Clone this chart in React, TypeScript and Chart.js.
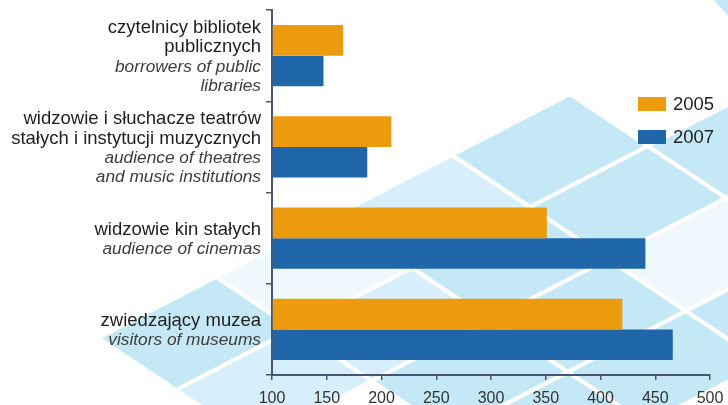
import React, { useEffect, useRef } from 'react';
import { Chart, registerables } from 'chart.js';

Chart.register(...registerables);

// ---- data ----
const categoryPl: string[][] = [
  ['czytelnicy bibliotek', 'publicznych'],
  ['widzowie i słuchacze teatrów', 'stałych i instytucji muzycznych'],
  ['widzowie kin stałych'],
  ['zwiedzający muzea'],
];
const categoryEn: string[][] = [
  ['borrowers of public', 'libraries'],
  ['audience of theatres', 'and music institutions'],
  ['audience of cinemas'],
  ['visitors of museums'],
];
const seriesNames = ['2005', '2007'];
const values2005 = [165, 209, 351, 420];
const values2007 = [147, 187, 441, 466];
const xMin = 100;
const xMax = 500;
const xStep = 50;

// ---- styles ----
const FONT = '"Liberation Sans", Arial, Helvetica, sans-serif';
const ORANGE = '#eb9b0d';
const BLUE = '#1f67a8';
const AXIS = '#4a5478';
const DIAMOND = '#c4e8f6';
const DIAMOND_LIGHT = '#d6effa';
const DIAMOND_PALE = '#eef8fd';

// lattice of decorative diamonds in the background
const latticeOrigin = [452, 155];
const latA = [78, 52];
const latB = [118, -61];
const cells: [number, number, string][] = [
  [0, 0, DIAMOND], [1, 0, DIAMOND], [1, 1, DIAMOND],
  [0, -1, DIAMOND_LIGHT], [1, -1, DIAMOND], [2, -1, DIAMOND], [3, -1, DIAMOND],
  [3, 0, DIAMOND], [2, 0, DIAMOND_PALE], [0, -2, DIAMOND_PALE], [1, -2, DIAMOND_LIGHT],
  [2, -2, DIAMOND], [3, -2, DIAMOND], [0, -3, DIAMOND], [1, -3, DIAMOND_LIGHT],
];

const backgroundPlugin = {
  id: 'bgDiamonds',
  beforeDraw(chart: any) {
    const ctx = chart.ctx;
    ctx.save();
    ctx.fillStyle = '#ffffff';
    ctx.fillRect(0, 0, chart.width, chart.height);
    cells.forEach(([i, j, color]) => {
      const lx = latticeOrigin[0] + i * latA[0] + j * latB[0];
      const ly = latticeOrigin[1] + i * latA[1] + j * latB[1];
      ctx.beginPath();
      ctx.moveTo(lx, ly);
      ctx.lineTo(lx + latB[0], ly + latB[1]);
      ctx.lineTo(lx + latA[0] + latB[0], ly + latA[1] + latB[1]);
      ctx.lineTo(lx + latA[0], ly + latA[1]);
      ctx.closePath();
      ctx.fillStyle = color;
      ctx.fill();
      ctx.strokeStyle = '#ffffff';
      ctx.lineWidth = 4;
      ctx.stroke();
    });
    // small corner piece at top right
    ctx.beginPath();
    ctx.moveTo(714, 0);
    ctx.lineTo(728, 0);
    ctx.lineTo(728, 16);
    ctx.closePath();
    ctx.fillStyle = DIAMOND;
    ctx.fill();
    ctx.restore();
  },
};

const labelsPlugin = {
  id: 'customLabels',
  afterDraw(chart: any) {
    const ctx = chart.ctx;
    const yScale = chart.scales.y;
    ctx.save();
    ctx.textAlign = 'right';
    ctx.textBaseline = 'middle';
    const lh = 19.5;
    categoryPl.forEach((pl, i) => {
      const lines = [
        ...pl.map((t) => ({ t, it: false })),
        ...categoryEn[i].map((t) => ({ t, it: true })),
      ];
      const cy = yScale.getPixelForValue(i) + 1.5;
      lines.forEach((ln, k) => {
        const yy = cy + (k - (lines.length - 1) / 2) * lh;
        ctx.font = ln.it ? `italic 17.3px ${FONT}` : `18.5px ${FONT}`;
        ctx.fillStyle = ln.it ? '#3d3d3d' : '#1e1e1e';
        ctx.fillText(ln.t, 261, yy);
      });
    });

    // legend
    const colors = [ORANGE, BLUE];
    ctx.textAlign = 'left';
    seriesNames.forEach((name, k) => {
      const top = 97 + k * 33;
      ctx.fillStyle = colors[k];
      ctx.fillRect(638, top, 28, 14);
      ctx.fillStyle = '#222';
      ctx.font = `18.5px ${FONT}`;
      ctx.fillText(name, 673, top + 8);
    });
    ctx.restore();
  },
};

export default function App() {
  const canvasRef = useRef<HTMLCanvasElement | null>(null);

  useEffect(() => {
    if (!canvasRef.current) return;
    const chart = new Chart(canvasRef.current, {
      type: 'bar',
      data: {
        labels: categoryPl.map((l) => l.join(' ')),
        datasets: [
          {
            label: seriesNames[0],
            data: values2005,
            backgroundColor: ORANGE,
            borderWidth: 0,
            base: xMin,
            categoryPercentage: 0.67,
            barPercentage: 1,
          } as any,
          {
            label: seriesNames[1],
            data: values2007,
            backgroundColor: BLUE,
            borderWidth: 0,
            base: xMin,
            categoryPercentage: 0.67,
            barPercentage: 1,
          } as any,
        ],
      },
      options: {
        indexAxis: 'y',
        responsive: false,
        animation: false,
        devicePixelRatio: 1,
        layout: { padding: { top: 10, right: 18, left: 0, bottom: 0 } },
        plugins: {
          legend: { display: false },
          tooltip: { enabled: false },
        },
        scales: {
          x: {
            min: xMin,
            max: xMax,
            ticks: {
              stepSize: xStep,
              font: { size: 16, family: FONT },
              color: '#333',
              padding: 9,
              maxRotation: 0,
            },
            grid: {
              drawOnChartArea: false,
              color: AXIS,
              tickLength: 5,
              lineWidth: 1.5,
            },
            border: { color: AXIS, width: 2 },
            afterFit: (s: any) => {
              s.height = 30;
              s.paddingLeft = 0;
              s.paddingRight = 0;
            },
          },
          y: {
            ticks: { display: false },
            grid: {
              drawOnChartArea: false,
              color: AXIS,
              tickLength: 6,
              lineWidth: 1.5,
              offset: true,
            },
            border: { color: AXIS, width: 2 },
            afterFit: (s: any) => {
              s.width = 272;
              s.paddingTop = 0;
              s.paddingBottom = 0;
            },
          },
        },
      } as any,
      plugins: [backgroundPlugin, labelsPlugin],
    });
    return () => chart.destroy();
  }, []);

  return (
    <div style={{ position: 'fixed', left: 0, top: 0, width: 728, height: 405 }}>
      <canvas ref={canvasRef} width={728} height={405} style={{ display: 'block' }} />
    </div>
  );
}
